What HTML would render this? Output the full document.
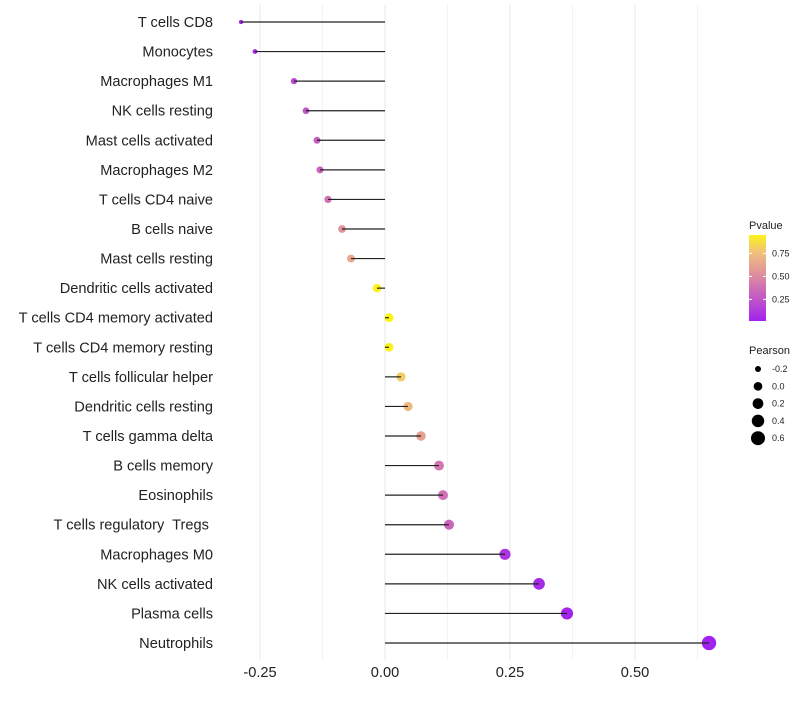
<!DOCTYPE html>
<html><head><meta charset="utf-8"><style>
body{margin:0;background:#fff;font-family:"Liberation Sans",sans-serif}
text{white-space:pre}
</style></head><body>
<svg id="c" width="800" height="700" xmlns="http://www.w3.org/2000/svg"></svg>
<script>
const categories=["T cells CD8","Monocytes","Macrophages M1","NK cells resting","Mast cells activated","Macrophages M2","T cells CD4 naive","B cells naive","Mast cells resting","Dendritic cells activated","T cells CD4 memory activated","T cells CD4 memory resting","T cells follicular helper","Dendritic cells resting","T cells gamma delta","B cells memory","Eosinophils","T cells regulatory  Tregs ","Macrophages M0","NK cells activated","Plasma cells","Neutrophils"];
const pearson=[-0.288,-0.26,-0.182,-0.158,-0.136,-0.13,-0.114,-0.086,-0.068,-0.016,0.008,0.008,0.032,0.046,0.072,0.108,0.116,0.128,0.24,0.308,0.364,0.648];
const pvalues=[0.02,0.05,0.2,0.25,0.3,0.32,0.38,0.55,0.65,0.95,0.97,0.95,0.8,0.72,0.6,0.4,0.38,0.33,0.1,0.05,0.02,0.01];
const xTicks=[-0.25,0,0.25,0.5];
const xTickLabels=["-0.25","0.00","0.25","0.50"];
const minorTicks=[-0.125,0.125,0.375,0.625];
const legendP=[0.25,0.5,0.75];
const legendSizes=[-0.2,0,0.2,0.4,0.6];

const svg=document.getElementById('c');
const NS="http://www.w3.org/2000/svg";
const X=v=>385+v*500;
const Y=i=>22+i*(621/21);
const R=v=>Math.sqrt(Math.max(2,19+50*v));
function lerp(a,b,t){return a.map((x,k)=>Math.round(x+(b[k]-x)*t));}
function col(p){const s=[[0,[160,32,240]],[0.5,[222,138,160]],[0.75,[240,190,128]],[1,[255,255,0]]];
 for(let k=1;k<s.length;k++){if(p<=s[k][0]){const t=(p-s[k-1][0])/(s[k][0]-s[k-1][0]);const c=lerp(s[k-1][1],s[k][1],t);return `rgb(${c})`;}}return 'rgb(255,255,0)';}
function el(t,a,txt){const e=document.createElementNS(NS,t);for(const k in a)e.setAttribute(k,a[k]);if(txt!==undefined)e.textContent=txt;svg.appendChild(e);return e;}

minorTicks.forEach(v=>{const g=el('line',{x1:X(v),x2:X(v),y1:5,y2:660,stroke:'#f2f2f2','stroke-width':1});

});
xTicks.forEach((v,i)=>{const g=el('line',{x1:X(v),x2:X(v),y1:5,y2:660,stroke:'#ebebeb','stroke-width':1.2});


const t=el('text',{x:X(v),y:677,'text-anchor':'middle','font-size':14.6,fill:'#222'},xTickLabels[i]);

});

categories.forEach((c,i)=>{
const t=el('text',{x:213,y:Y(i)+5,'text-anchor':'end','font-size':14.6,fill:'#222'},c);


const d=el('circle',{cx:X(pearson[i]),cy:Y(i),r:R(pearson[i]),fill:col(pvalues[i])});


const l=el('line',{x1:X(0),x2:X(pearson[i]),y1:Y(i),y2:Y(i),stroke:'#222','stroke-width':1.2});


});

const defs=el('defs',{});
const lg=document.createElementNS(NS,'linearGradient');lg.setAttribute('id','pg');lg.setAttribute('x1',0);lg.setAttribute('y1',1);lg.setAttribute('x2',0);lg.setAttribute('y2',0);
for(let k=0;k<=10;k++){const p=0.015+k/10*(0.95-0.015);const s=document.createElementNS(NS,'stop');s.setAttribute('offset',k/10);s.setAttribute('stop-color',col(p));lg.appendChild(s);}
defs.appendChild(lg);
const lt=el('text',{x:749,y:229,'font-size':11,fill:'#222'},'Pvalue');


const bar=el('rect',{x:749,y:235,width:17,height:86,fill:'url(#pg)'});


const PY=p=>235+(0.95-p)/(0.95-0.015)*86;
legendP.forEach(p=>{el('line',{x1:749,x2:752,y1:PY(p),y2:PY(p),stroke:'#fff'});el('line',{x1:763,x2:766,y1:PY(p),y2:PY(p),stroke:'#fff'});
const t=el('text',{x:772,y:PY(p)+3,'font-size':9,fill:'#222'},p.toFixed(2));

});

const st=el('text',{x:749,y:354,'font-size':11,fill:'#222'},'Pearson');


legendSizes.forEach((v,i)=>{const y=369+i*17.3;
const c=el('circle',{cx:758,cy:y,r:R(v),fill:'#000'});


const t=el('text',{x:772,y:y+3,'font-size':9,fill:'#222'},v.toFixed(1));

});
</script>
</body></html>
